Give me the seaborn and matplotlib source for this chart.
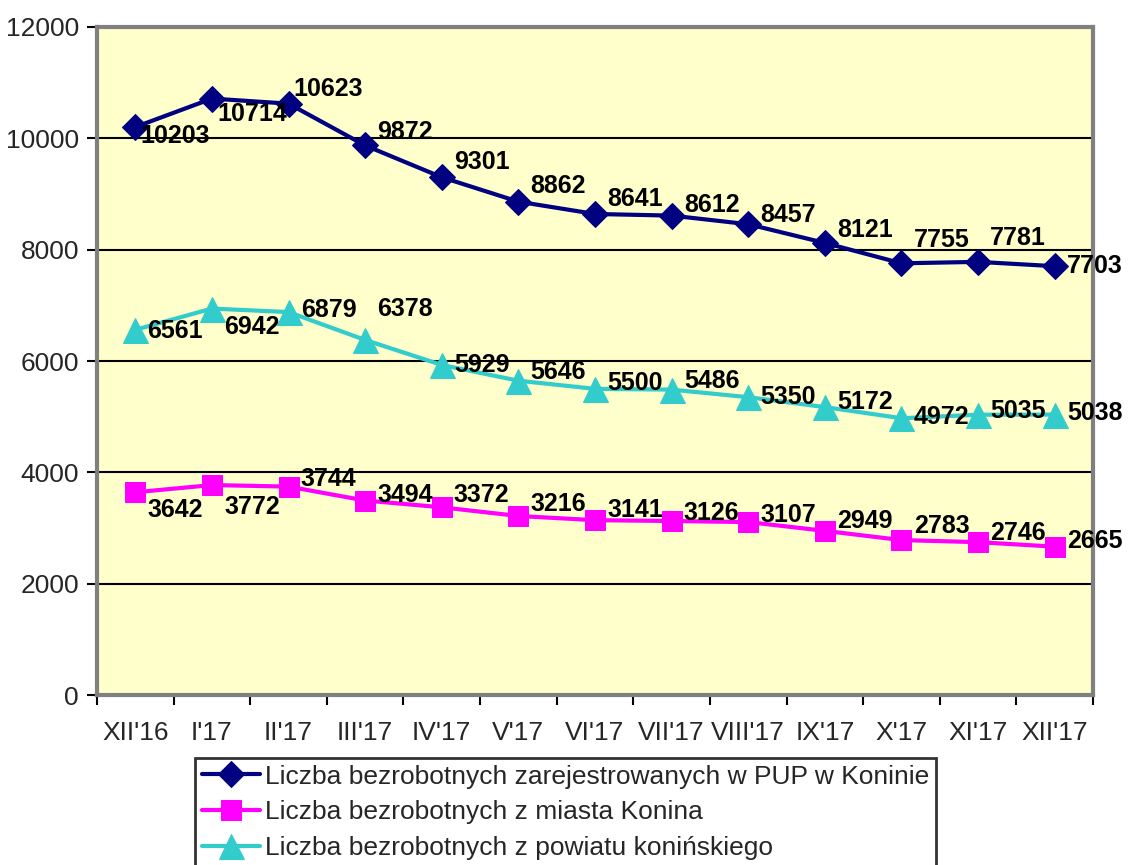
import matplotlib
matplotlib.use("Agg")
import matplotlib.pyplot as plt
import seaborn as sns
import pandas as pd
import numpy as np

months = ["XII'16", "I'17", "II'17", "III'17", "IV'17", "V'17", "VI'17",
          "VII'17", "VIII'17", "IX'17", "X'17", "XI'17", "XII'17"]
total = [10203, 10714, 10623, 9872, 9301, 8862, 8641, 8612, 8457, 8121, 7755, 7781, 7703]
city = [3642, 3772, 3744, 3494, 3372, 3216, 3141, 3126, 3107, 2949, 2783, 2746, 2665]
county = [6561, 6942, 6879, 6378, 5929, 5646, 5500, 5486, 5350, 5172, 4972, 5035, 5038]

names = ["Liczba bezrobotnych zarejestrowanych w PUP w Koninie",
         "Liczba bezrobotnych z miasta Konina",
         "Liczba bezrobotnych z powiatu konińskiego"]

# label vertical offsets in pixels (positive = up)
dy_total = [-9, -15, 15, 13, 15, 16, 15, 11, 9, 13, 23, 24, 0]
dy_city = [-18, -22, 8, 6, 12, 12, 10, 8, 7, 10, 14, 9, 6]
dy_county = [-1, -18, 2, 31, 0, 9, 6, 9, 0, 5, 1, 4, 2]

sns.set_theme(style="white")
plt.rcParams["font.family"] = ["Liberation Sans", "DejaVu Sans"]

fig = plt.figure(figsize=(11.38, 8.65), dpi=100)
ax = fig.add_axes([0.0852, 0.1965, 0.8753, 0.7723])
ax.set_facecolor("#FFFFCC")

x = np.arange(len(months))
series = [
    (total, "#000080", "D", 13, dy_total),
    (city, "#FF00FF", "s", 14, dy_city),
    (county, "#33CCCC", "^", 18, dy_county),
]

for (vals, col, mk, ms, dys), name in zip(series, names):
    df = pd.DataFrame({"x": x, "y": vals})
    sns.lineplot(data=df, x="x", y="y", ax=ax, color=col, marker=mk,
                 markersize=ms, markeredgecolor=col, linewidth=3,
                 label=name, zorder=3)
    for xi, v, d in zip(x, vals, dys):
        ax.annotate(str(v), (xi, v), xytext=(40, d), textcoords="offset pixels",
                    ha="center", va="center", fontsize=18, fontweight="bold",
                    color="black", zorder=5, annotation_clip=False)

ax.set_xlim(-0.5, len(months) - 0.5)
ax.set_ylim(0, 12000)
ax.set_yticks(range(0, 12001, 2000))
ax.yaxis.grid(True, color="black", linewidth=1.5)
ax.set_axisbelow(True)

ax.set_xticks(x)
ax.set_xticklabels(months, fontsize=19)
ax.set_xticks(np.arange(-0.5, len(months)), minor=True)
ax.tick_params(axis="x", which="major", length=0, pad=19)
ax.tick_params(axis="x", which="minor", length=7, width=1.5, color="black", bottom=True)
ax.tick_params(axis="y", labelsize=19, length=7, width=1.5, color="black", left=True, pad=6)
ax.set_xlabel("")
ax.set_ylabel("")

for s in ax.spines.values():
    s.set_color("#808080")
    s.set_linewidth(3)

leg = ax.legend(loc="upper left", bbox_to_anchor=(195 / 1138, 1 - 758 / 865),
                bbox_transform=fig.transFigure, fontsize=19, frameon=True,
                fancybox=False, edgecolor="black", handlelength=2.2,
                handletextpad=0.2, borderpad=0.25, labelspacing=0.45,
                borderaxespad=0)
leg.get_frame().set_linewidth(2)

fig.savefig("out.png", dpi=100, facecolor="white")
